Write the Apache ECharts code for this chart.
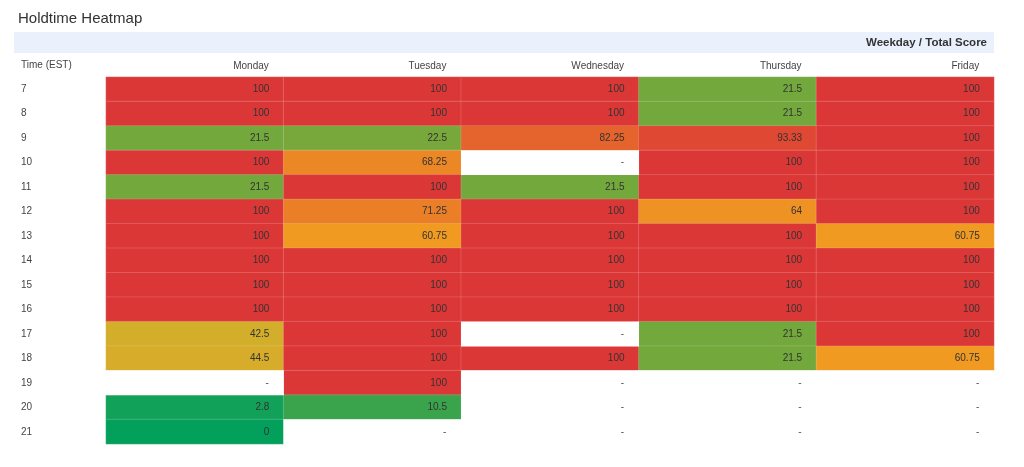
<!DOCTYPE html>
<html>
<head>
<meta charset="utf-8">
<style>
  html, body { margin: 0; padding: 0; background: #fff; }
  #chart-container { width: 1024px; height: 467px; }
</style>
<script src="https://cdn.jsdelivr.net/npm/echarts@6/dist/echarts.min.js"></script>
</head>
<body>
<div id="chart-container"></div>
<script>
const days = ['Monday', 'Tuesday', 'Wednesday', 'Thursday', 'Friday'];
const hours = ['7', '8', '9', '10', '11', '12', '13', '14', '15', '16', '17', '18', '19', '20', '21'];

// total score per hour (null = no data)
const monday = [100, 100, 21.5, 100, 21.5, 100, 100, 100, 100, 100, 42.5, 44.5, null, 2.8, 0];
const tuesday = [100, 100, 22.5, 68.25, 100, 71.25, 60.75, 100, 100, 100, 100, 100, 100, 10.5, null];
const wednesday = [100, 100, 82.25, null, 21.5, 100, 100, 100, 100, 100, null, 100, null, null, null];
const thursday = [21.5, 21.5, 93.33, 100, 100, 64, 100, 100, 100, 100, 21.5, 21.5, null, null, null];
const friday = [100, 100, 100, 100, 100, 100, 60.75, 100, 100, 100, 100, 60.75, null, null, null];

const scoreColors = ['#03a05c', '#6ca73e', '#cfb02c', '#f09c22', '#e6692b', '#dc3737'];

const FONT = '"Liberation Sans", Arial, sans-serif';

const initChart = () => {
  const dom = document.getElementById('chart-container');
  return echarts.init(dom, null, { renderer: 'canvas' });
};

const buildData = () => {
  const filled = [];
  const empty = [];
  [monday, tuesday, wednesday, thursday, friday].forEach((col, x) => {
    col.forEach((v, y) => {
      if (v === null) empty.push([x, y, 0]);
      else filled.push([x, y, v]);
    });
  });
  return { filled, empty };
};

const renderChart = (chart) => {
  const { filled, empty } = buildData();

  const cellLabel = {
    show: true,
    position: 'insideRight',
    distance: 15,
    fontFamily: FONT,
    fontSize: 10,
    color: '#333',
  };

  chart.setOption({
    animation: false,
    textStyle: { fontFamily: FONT },
    title: [
      {
        text: 'Holdtime Heatmap',
        left: 13,
        top: 6,
        textStyle: { fontSize: 15, fontWeight: 'normal', color: '#333', fontFamily: FONT },
      },
      {
        text: 'Weekday / Total Score',
        right: 37,
        top: 37,
        padding: 0,
        textStyle: { fontSize: 11.5, fontWeight: 'bold', color: '#333', fontFamily: FONT },
      },
      {
        text: 'Time (EST)',
        left: 21,
        top: 60,
        padding: 0,
        textStyle: { fontSize: 10, fontWeight: 'normal', color: '#444', fontFamily: FONT },
      },
    ],
    graphic: [
      {
        type: 'rect',
        z: -1,
        shape: { x: 14, y: 32, width: 980, height: 21 },
        style: { fill: '#eaf1fd' },
      },
    ],
    grid: { left: 106, right: 30, top: 77, height: 367 },
    xAxis: {
      type: 'category',
      position: 'top',
      data: days,
      axisLine: { show: false },
      axisTick: { show: false },
      splitLine: { show: false },
      axisLabel: {
        margin: 6,
        formatter: (v) => '{d|' + v + '}',
        rich: {
          d: { width: 148, align: 'right', fontSize: 10, color: '#444', fontFamily: FONT },
        },
      },
    },
    yAxis: {
      type: 'category',
      inverse: true,
      data: hours,
      axisLine: { show: false },
      axisTick: { show: false },
      splitLine: { show: false },
      axisLabel: { align: 'left', margin: 85, fontSize: 10, color: '#444', fontFamily: FONT },
    },
    visualMap: {
      show: false,
      type: 'continuous',
      seriesIndex: 0,
      min: 0,
      max: 100,
      inRange: { color: scoreColors },
    },
    series: [
      {
        name: 'Total Score',
        type: 'heatmap',
        data: filled,
        label: cellLabel,
        itemStyle: { borderColor: 'rgba(255,255,255,0.15)', borderWidth: 1 },
        emphasis: { disabled: true },
      },
      {
        name: 'No data',
        type: 'heatmap',
        data: empty,
        label: Object.assign({}, cellLabel, { formatter: '-', color: '#555' }),
        itemStyle: { color: '#fff' },
        emphasis: { disabled: true },
      },
    ],
  });
};

const chart = initChart();
renderChart(chart);
</script>
</body>
</html>
